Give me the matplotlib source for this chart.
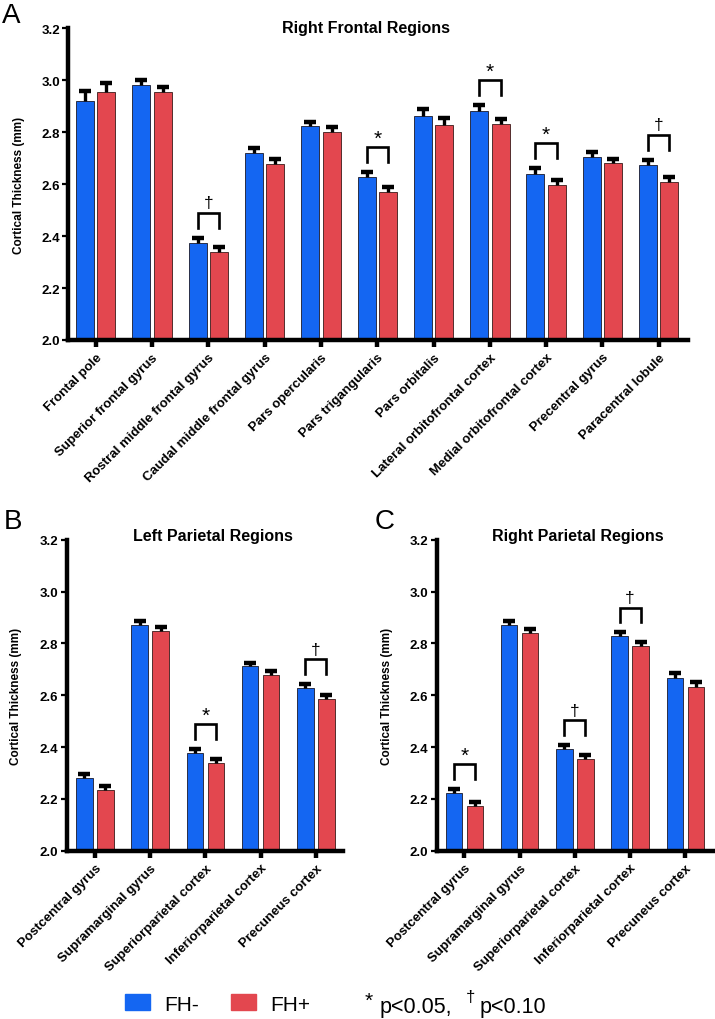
import matplotlib
matplotlib.use("Agg")
import matplotlib.pyplot as plt
from matplotlib.patches import Patch
import numpy as np

plt.rcParams['font.family'] = ['Liberation Sans', 'DejaVu Sans']

# Werte
regions_A = ["Frontal pole", "Superior frontal gyrus", "Rostral middle frontal gyrus",
             "Caudal middle frontal gyrus", "Pars opercularis", "Pars trigangularis",
             "Pars orbitalis", "Lateral orbitofrontal cortex", "Medial orbitofrontal cortex",
             "Precentral gyrus", "Paracentral lobule"]
fhneg_A = [2.921, 2.982, 2.372, 2.720, 2.822, 2.629, 2.863, 2.882, 2.640, 2.706, 2.673]
fhpos_A = [2.955, 2.955, 2.340, 2.679, 2.800, 2.568, 2.827, 2.830, 2.596, 2.681, 2.609]
errneg_A = [0.037, 0.020, 0.022, 0.018, 0.018, 0.019, 0.027, 0.023, 0.023, 0.016, 0.021]
errpos_A = [0.036, 0.020, 0.018, 0.018, 0.020, 0.020, 0.026, 0.019, 0.021, 0.015, 0.020]
sig_A = {2: "†", 5: "*", 7: "*", 8: "*", 10: "†"}

regions_P = ["Postcentral gyrus", "Supramarginal gyrus", "Superiorparietal cortex",
             "Inferiorparietal cortex", "Precuneus cortex"]
fhneg_B = [2.280, 2.871, 2.377, 2.711, 2.627]
fhpos_B = [2.234, 2.846, 2.338, 2.679, 2.585]
errneg_B = [0.016, 0.017, 0.016, 0.014, 0.016]
errpos_B = [0.015, 0.017, 0.017, 0.016, 0.017]
sig_B = {2: "*", 4: "†"}

fhneg_C = [2.222, 2.871, 2.391, 2.828, 2.668]
fhpos_C = [2.172, 2.841, 2.355, 2.790, 2.631]
errneg_C = [0.017, 0.016, 0.017, 0.015, 0.017]
errpos_C = [0.016, 0.015, 0.015, 0.017, 0.019]
sig_C = {0: "*", 2: "†", 3: "†"}

blau = "#1466F2"
rot = "#E3474F"

W, H = 715, 1020
fig = plt.figure(figsize=(W / 100, H / 100), dpi=100)


def box(l, t, r, b):
    # pixel -> figure koordinaten
    return [l / W, 1 - b / H, (r - l) / W, (b - t) / H]


def panel(ax, labels, neg, pos, eneg, epos, sig, width, off):
    x = np.arange(len(labels))
    ax.bar(x - off, neg, width, bottom=0, color=blau, edgecolor="#1a1a2a", linewidth=0.6, zorder=2)
    ax.bar(x + off, pos, width, bottom=0, color=rot, edgecolor="#3a1a1a", linewidth=0.6, zorder=2)
    for xs, v, e in [(x - off, neg, eneg), (x + off, pos, epos)]:
        eb = ax.errorbar(xs, v, yerr=[np.zeros(len(v)), e], fmt="none", ecolor="black",
                         elinewidth=2.4, capsize=4.2, capthick=3.2, zorder=3)
        eb[1][0].set_visible(False)
    for i, s in sig.items():
        top = max(neg[i] + eneg[i], pos[i] + epos[i])
        y0 = top + 0.038
        y1 = y0 + 0.057
        ax.plot([i - off, i - off, i + off, i + off], [y0, y1, y1, y0], color="black",
                lw=1.9, solid_joinstyle="miter", zorder=3)
        if s == "*":
            ax.text(i, y1 + 0.012, s, ha="center", va="baseline", fontsize=15)
        else:
            ax.text(i, y1 + 0.022, s, ha="center", va="baseline", fontsize=12.5)
    ax.set_ylim(2.0, 3.2)
    ax.set_yticks(np.arange(2.0, 3.21, 0.2))
    ax.set_yticklabels([f"{v:.1f}" for v in np.arange(2.0, 3.21, 0.2)], fontweight="bold", fontsize=9.5)
    ax.set_xticks(x)
    ax.set_xticklabels(labels, rotation=45, ha="right", rotation_mode="anchor",
                       fontweight="bold", fontsize=9.5)
    ax.set_xlim(-0.5, len(labels) - 0.5)
    for sp in ["top", "right"]:
        ax.spines[sp].set_visible(False)
    for sp in ["left", "bottom"]:
        ax.spines[sp].set_linewidth(3.2)
    ax.tick_params(axis="x", length=5, width=3.2, pad=3)
    ax.tick_params(axis="y", length=4, width=1.6, pad=2)
    ax.set_ylabel("Cortical Thickness (mm)", fontweight="bold", fontsize=8.5)


axA = fig.add_axes(box(68.3, 29.3, 688, 341))
panel(axA, regions_A, fhneg_A, fhpos_A, errneg_A, errpos_A, sig_A, 0.32, 0.19)
axA.set_xlim(-0.487, 10.52)
axA.yaxis.set_label_coords(-0.07, 0.5)

axB = fig.add_axes(box(66.7, 540.7, 343, 851.7))
panel(axB, regions_P, fhneg_B, fhpos_B, errneg_B, errpos_B, sig_B, 0.30, 0.19)
axB.set_xlim(-0.51, 4.49)
axB.yaxis.set_label_coords(-0.163, 0.5)

axC = fig.add_axes(box(436.7, 540.7, 713, 851.7))
panel(axC, regions_P, fhneg_C, fhpos_C, errneg_C, errpos_C, sig_C, 0.30, 0.19)
axC.set_xlim(-0.5, 4.5)
axC.yaxis.set_label_coords(-0.157, 0.5)

# titel
fig.text(366 / W, 1 - 28 / H, "Right Frontal Regions", ha="center", va="center", fontweight="bold", fontsize=11.5)
fig.text(213 / W, 1 - 537 / H, "Left Parietal Regions", ha="center", va="center", fontweight="bold", fontsize=11.5)
fig.text(578 / W, 1 - 537 / H, "Right Parietal Regions", ha="center", va="center", fontweight="bold", fontsize=11.5)

# panel buchstaben
fig.text(2 / W, 1 - 23 / H, "A", fontsize=20, va="baseline")
fig.text(4 / W, 1 - 529 / H, "B", fontsize=20, va="baseline")
fig.text(375 / W, 1 - 529 / H, "C", fontsize=20, va="baseline")

# legende
fig.legend(handles=[Patch(color=blau, label="FH-"), Patch(color=rot, label="FH+")],
           loc="center left", bbox_to_anchor=(125 / W, 1 - 1005 / H), ncol=2, frameon=False,
           fontsize=15, handlelength=1.2, handleheight=0.8, handletextpad=0.7,
           columnspacing=1.5, borderpad=0, borderaxespad=0)
fig.text(365 / W, 1 - 1007 / H, "*", fontsize=15, va="baseline")
fig.text(380 / W, 1 - 1013 / H, "p<0.05,", fontsize=15.5, va="baseline")
fig.text(466 / W, 1 - 1002 / H, "†", fontsize=12, va="baseline")
fig.text(480 / W, 1 - 1013 / H, "p<0.10", fontsize=15.5, va="baseline")

fig.savefig("out.png", dpi=100)
